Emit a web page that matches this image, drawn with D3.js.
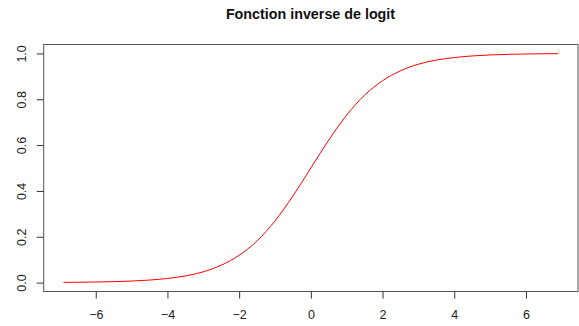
<!DOCTYPE html>
<html><head><meta charset="utf-8">
<script src="https://cdn.jsdelivr.net/npm/d3@7"></script>
<style>body{margin:0;background:#fff;}svg{display:block;font-family:"Liberation Sans",Arial,sans-serif;}</style>
</head><body>
<script>
const xValues = [-6.9,-6.5,-6,-5.5,-5,-4.5,-4,-3.5,-3,-2.5,-2,-1.5,-1,-0.5,0,0.5,1,1.5,2,2.5,3,3.5,4,4.5,5,5.5,6,6.5,6.9];
const yValues = [0.001,0.0015,0.0025,0.0041,0.0067,0.011,0.018,0.029,0.047,0.076,0.119,0.182,0.269,0.378,0.5,0.622,0.731,0.818,0.881,0.924,0.953,0.971,0.982,0.989,0.9933,0.9959,0.9975,0.9985,0.999];
const xTicks = [-6,-4,-2,0,2,4,6];
const yTicks = [0.0,0.2,0.4,0.6,0.8,1.0];
const title = "Fonction inverse de logit";

const W = 579, H = 326;
const L = 43.7, R = 578, T = 44.5, B = 291.5;
const svg = d3.select("body").append("svg").attr("width", W).attr("height", H);

const xExt = [-6.9, 6.9], yExt = [0.001, 0.999];
const xPad = (xExt[1]-xExt[0])*0.04, yPad = (yExt[1]-yExt[0])*0.04;
const x = d3.scaleLinear().domain([xExt[0]-xPad, xExt[1]+xPad]).range([L, R]);
const y = d3.scaleLinear().domain([yExt[0]-yPad, yExt[1]+yPad]).range([B, T]);

const data = xValues.map((v,i)=>({x:v,y:yValues[i]}));
svg.append("path").datum(data)
  .attr("fill","none").attr("stroke","#ff0000").attr("stroke-width",1)
  .attr("d", d3.line().x(d=>x(d.x)).y(d=>y(d.y)).curve(d3.curveMonotoneX));

svg.append("rect").attr("x",L).attr("y",T).attr("width",R-L).attr("height",B-T)
  .attr("fill","none").attr("stroke","#555").attr("stroke-width",1);

const xa = svg.append("g").attr("transform",`translate(0,${B})`)
  .call(d3.axisBottom(x).tickValues(xTicks).tickSize(7).tickPadding(12).tickFormat(d3.format("d")));
xa.select(".domain").remove();
xa.selectAll("line").attr("stroke","#333");
xa.selectAll("text").attr("font-size","12.5px").attr("fill","#222").attr("font-family","Liberation Sans, Arial, sans-serif");

const ya = svg.append("g").attr("transform",`translate(${L},0)`)
  .call(d3.axisLeft(y).tickValues(yTicks).tickSize(7).tickFormat(d3.format(".1f")));
ya.select(".domain").remove();
ya.selectAll("line").attr("stroke","#333");
ya.selectAll("text").attr("font-size","12.5px").attr("fill","#222").attr("font-family","Liberation Sans, Arial, sans-serif")
  .attr("text-anchor","middle").attr("dy",null).attr("x",null)
  .attr("transform","translate(-22.5,0) rotate(-90)").attr("dy","0.35em");

svg.append("text").attr("x",310.5).attr("y",19).attr("text-anchor","middle")
  .attr("font-size","14.3px").attr("font-weight","bold").attr("fill","#111").text(title);
</script>
</body></html>
